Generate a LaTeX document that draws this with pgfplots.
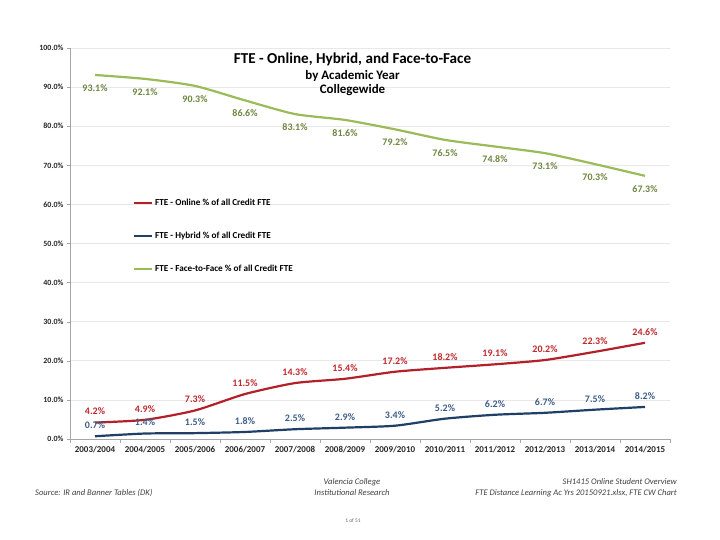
\documentclass[border=0pt]{standalone}
\usepackage{fontspec}
\setmainfont{Carlito}
\usepackage{pgfplots}
\pgfplotsset{compat=1.18}
\definecolor{cred}{HTML}{B3202A}
\definecolor{credlab}{HTML}{C0282D}
\definecolor{cblue}{HTML}{1F3F66}
\definecolor{cbluelab}{HTML}{3E5E88}
\definecolor{cgreen}{HTML}{9BBB59}
\definecolor{cgreenlab}{HTML}{6E8540}
\begin{document}
\begin{tikzpicture}
\path[use as bounding box, fill=white] (0bp,0bp) rectangle (720bp,540bp);
\begin{axis}[
  at={(70bp,101bp)}, anchor=south west,
  scale only axis, width=600bp, height=391bp,
  xmin=-0.5, xmax=11.5, ymin=0, ymax=100,
  xtick={0,...,11},
  xticklabels={2003/2004,2004/2005,2005/2006,2006/2007,2007/2008,2008/2009,2009/2010,2010/2011,2011/2012,2012/2013,2013/2014,2014/2015},
  minor xtick={-0.5,0.5,...,11.5},
  major x tick style={draw=none},
  minor x tick style={draw=gray!70},
  minor tick length=4bp,
  ytick={0,10,...,100},
  major tick length=3bp,
  tick align=outside,
  ymajorgrids, grid style={draw=gray!18, line width=0.6bp},
  axis x line*=bottom, axis y line*=left,
  axis line style={draw=gray!70, line width=0.6bp},
  y tick style={draw=gray!70},
  /pgf/number format/assume math mode=true,
  yticklabel={\pgfmathprintnumber[fixed,fixed zerofill,precision=1]{\tick}\%},
  ticklabel style={font=\bfseries\fontsize{8}{9}\selectfont, text=black!85},
  xticklabel style={font=\bfseries\fontsize{9}{10}\selectfont, yshift=-1bp},
  legend style={at={(0.1,0.625)}, anchor=north west, draw=none, fill=none,
    font=\bfseries\fontsize{9.2}{11}\selectfont, row sep=21bp},
  legend cell align=left,
  legend image code/.code={\draw[#1, line width=2bp, smooth=false] (0bp,0bp) -- (18bp,0bp);},
  nodes near coords={\pgfmathprintnumber[fixed,fixed zerofill,precision=1]{\pgfplotspointmeta}\%},
  every node near coord/.append style={font=\bfseries\fontsize{10}{12}\selectfont, anchor=center},
  clip=false,
]
\addplot[cred, line width=2.2bp, smooth, tension=0.4,
  every node near coord/.append style={text=credlab, yshift=11bp}]
  coordinates {(0,4.2) (1,4.9) (2,7.3) (3,11.5) (4,14.3) (5,15.4) (6,17.2) (7,18.2) (8,19.1) (9,20.2) (10,22.3) (11,24.6)};
\addlegendentry{FTE - Online \% of all Credit FTE}
\addplot[cblue, line width=2.2bp, smooth, tension=0.4,
  every node near coord/.append style={text=cbluelab, yshift=11bp}]
  coordinates {(0,0.7) (1,1.4) (2,1.5) (3,1.8) (4,2.5) (5,2.9) (6,3.4) (7,5.2) (8,6.2) (9,6.7) (10,7.5) (11,8.2)};
\addlegendentry{FTE - Hybrid \% of all Credit FTE}
\addplot[cgreen, line width=2.2bp, smooth, tension=0.4,
  every node near coord/.append style={text=cgreenlab, yshift=-13bp}]
  coordinates {(0,93.1) (1,92.1) (2,90.3) (3,86.6) (4,83.1) (5,81.6) (6,79.2) (7,76.5) (8,74.8) (9,73.1) (10,70.3) (11,67.3)};
\addlegendentry{FTE - Face-to-Face \% of all Credit FTE}
\end{axis}
\node[font=\bfseries\fontsize{15.2}{18}\selectfont] at (352.5bp,481bp) {FTE - Online, Hybrid, and Face-to-Face};
\node[font=\bfseries\fontsize{13}{15}\selectfont] at (352.5bp,464bp) {by Academic Year};
\node[font=\bfseries\fontsize{13}{15}\selectfont] at (352.5bp,450bp) {Collegewide};
\begin{scope}[every node/.style={font=\itshape\fontsize{8.6}{10}\selectfont, text=black!75, inner sep=0pt}]
\node[anchor=west] at (35bp,47bp) {Source: IR and Banner Tables (DK)};
\node at (352bp,58bp) {Valencia College};
\node at (352bp,47bp) {Institutional Research};
\node[anchor=east] at (677bp,58bp) {SH1415 Online Student Overview};
\node[anchor=east] at (677bp,47bp) {FTE Distance Learning Ac Yrs 20150921.xlsx, FTE CW Chart};
\end{scope}
\node[font=\fontsize{5.5}{6}\selectfont, text=black!60] at (353bp,19bp) {1 of 51};
\end{tikzpicture}
\end{document}
